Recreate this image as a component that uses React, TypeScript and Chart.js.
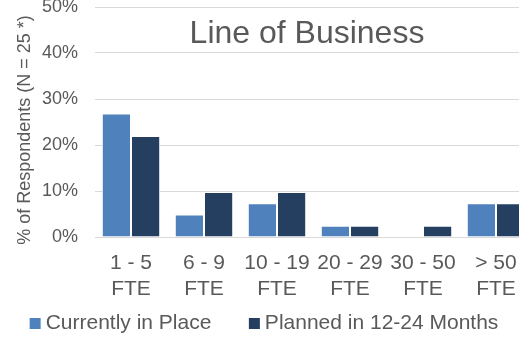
import React, { useEffect, useRef } from "react";
import { Chart, registerables } from "chart.js";

Chart.register(...registerables);

// Company size bands (full-time equivalents)
const categories: string[][] = [
  ["1 - 5", "FTE"],
  ["6 - 9", "FTE"],
  ["10 - 19", "FTE"],
  ["20 - 29", "FTE"],
  ["30 - 50", "FTE"],
  ["> 50", "FTE"],
];

// Share of respondents, in percent
const currentlyInPlace = [26.83, 4.88, 7.32, 2.44, 0, 7.32];
const plannedIn12to24Months = [21.95, 9.76, 9.76, 2.44, 2.44, 7.32];

const seriesNames = ["Currently in Place", "Planned in 12-24 Months"];
const seriesColors = ["#4f81bd", "#243f60"];

const yMin = 0;
const yMax = 50;
const yStep = 10;

const chartTitle = "Line of Business";
const yAxisTitle = "% of Respondents (N = 25 *)";

const FONT = '"Liberation Sans", Arial, sans-serif';
const TEXT_COLOR = "#595959";
const GRID_COLOR = "#d9d9d9";

// Draws the overlaid chart title, the rotated axis title and the legend row.
const overlayText = {
  id: "overlayText",
  afterDraw(chart: any) {
    const { ctx, chartArea } = chart;
    ctx.save();
    ctx.fillStyle = TEXT_COLOR;

    // Title sits inside the plot area, over the gridlines
    ctx.font = `32px ${FONT}`;
    ctx.textAlign = "center";
    ctx.textBaseline = "alphabetic";
    ctx.fillText(chartTitle, 307, 53);

    // Vertical axis title
    ctx.save();
    ctx.translate(25, (chartArea.top + chartArea.bottom) / 2 + 8);
    ctx.rotate(-Math.PI / 2);
    ctx.font = `18px ${FONT}`;
    ctx.textAlign = "center";
    ctx.textBaseline = "middle";
    ctx.fillText(yAxisTitle, 0, 0);
    ctx.restore();

    // Legend
    const box = 11;
    const boxGap = 5;
    const itemGap = 37.5;
    const centerX = 264;
    const centerY = 333.5;
    ctx.font = `21px ${FONT}`;
    ctx.textAlign = "left";
    ctx.textBaseline = "middle";
    const datasets = chart.data.datasets;
    const widths = datasets.map(
      (d: any) => box + boxGap + ctx.measureText(d.label).width
    );
    const total =
      widths.reduce((a: number, b: number) => a + b, 0) +
      itemGap * (datasets.length - 1);
    let x = centerX - total / 2;
    datasets.forEach((d: any, i: number) => {
      ctx.fillStyle = d.backgroundColor;
      ctx.fillRect(x, centerY - box / 2, box, box);
      ctx.fillStyle = TEXT_COLOR;
      ctx.fillText(d.label, x + box + boxGap, centerY);
      x += widths[i] + itemGap;
    });

    ctx.restore();
  },
};

export default function App() {
  const canvasRef = useRef<HTMLCanvasElement | null>(null);

  useEffect(() => {
    if (!canvasRef.current) return;
    const chart = new Chart(canvasRef.current, {
      type: "bar",
      data: {
        labels: categories,
        datasets: [
          {
            label: seriesNames[0],
            data: currentlyInPlace,
            backgroundColor: seriesColors[0],
            borderColor: "#ffffff",
            borderWidth: 1,
            categoryPercentage: 0.8,
            barPercentage: 1,
          },
          {
            label: seriesNames[1],
            data: plannedIn12to24Months,
            backgroundColor: seriesColors[1],
            borderColor: "#ffffff",
            borderWidth: 1,
            categoryPercentage: 0.8,
            barPercentage: 1,
          },
        ],
      },
      options: {
        animation: false,
        responsive: false,
        devicePixelRatio: 1,
        layout: {
          padding: { left: 0, right: 27.5, top: 17, bottom: 41 },
        },
        plugins: {
          legend: { display: false },
          title: { display: false },
          tooltip: { enabled: false },
        },
        scales: {
          x: {
            grid: { display: false, drawTicks: false },
            border: { display: false },
            ticks: {
              color: TEXT_COLOR,
              font: { family: FONT, size: 21, lineHeight: 1.2 },
              padding: 14,
              maxRotation: 0,
              autoSkip: false,
            },
            afterFit: (scale: any) => {
              scale.height = 62;
            },
          },
          y: {
            min: yMin,
            max: yMax,
            grid: { color: GRID_COLOR, lineWidth: 1, drawTicks: false },
            border: { display: false },
            ticks: {
              stepSize: yStep,
              color: TEXT_COLOR,
              font: { family: FONT, size: 18 },
              padding: 16.5,
              callback: (v: any) => `${v}%`,
            },
            afterFit: (scale: any) => {
              scale.width = 94.5;
              // top/bottom labels may overhang the plot edges
              scale.paddingTop = 0;
              scale.paddingBottom = 0;
            },
          },
        },
      },
      plugins: [overlayText],
    });
    return () => chart.destroy();
  }, []);

  return (
    <div
      style={{
        position: "fixed",
        left: 0,
        top: 0,
        width: 519,
        height: 340,
        overflow: "hidden",
        background: "#ffffff",
      }}
    >
      <canvas
        ref={canvasRef}
        width={560}
        height={350}
        style={{ position: "absolute", left: 0, top: -10, width: 560, height: 350 }}
      />
    </div>
  );
}
